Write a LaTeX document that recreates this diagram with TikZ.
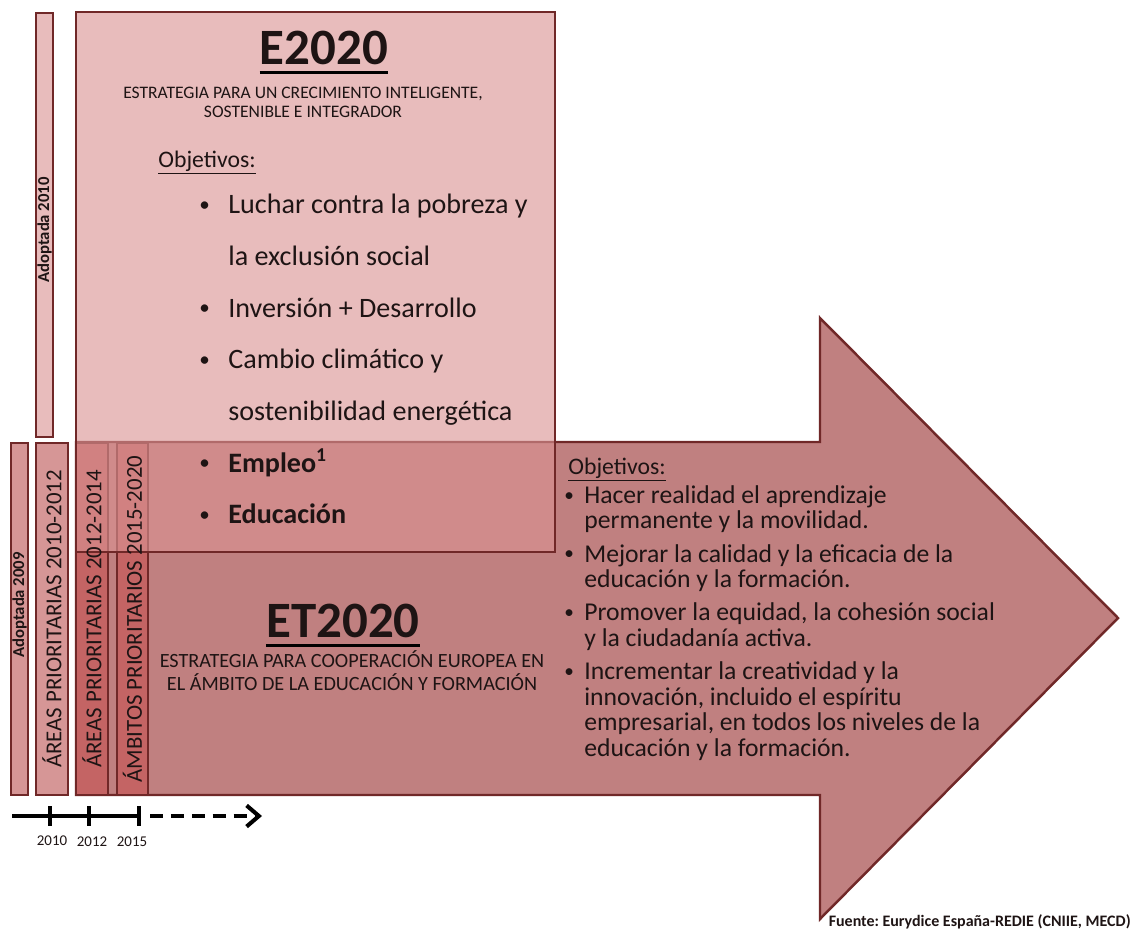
\documentclass[tikz,border=0pt]{standalone}
\usepackage{fontspec}
\setmainfont{Carlito}
\usetikzlibrary{arrows.meta}

\definecolor{edge}{RGB}{112,40,40}
\definecolor{arrowfill}{RGB}{192,128,128}
\definecolor{boxfill}{RGB}{218,147,147}
\definecolor{palebar}{RGB}{232,188,188}
\definecolor{lightbar}{RGB}{214,150,150}
\definecolor{darkbar}{RGB}{196,100,100}
\definecolor{ink}{RGB}{30,20,20}

\frenchspacing
\newcommand{\fsz}[2]{\fontsize{#1}{#2}\selectfont}
\newcommand{\bul}[1]{\makebox[#1][l]{\raisebox{0.08em}{\scalebox{0.75}{\textbullet}}}}

\tikzset{
  bar/.style={draw=edge, line width=1.4pt, rectangle, inner sep=0pt, rotate=90},
  vlab/.style={rotate=90, inner sep=0pt, font=\fsz{13}{14}},
  tit/.style={inner sep=0pt, font=\bfseries\fsz{29}{32}},
  yr/.style={inner sep=0pt, font=\fsz{8.5}{9}}
}

\begin{document}
\begin{tikzpicture}[x=0.02cm, y=-0.02cm, text=ink]
\useasboundingbox (0,0) rectangle (1136,930);

% ET2020 arrow
\draw[edge, line width=1.4pt, fill=arrowfill, line join=miter]
  (76,442) -- (820,442) -- (820,318) -- (1118,618) -- (820,919) -- (820,795) -- (76,795) -- cycle;

% adoption and priority bars
\node[bar, fill=palebar, minimum width=8.48cm, minimum height=0.34cm] (b2010) at (44.5,225) {};
\node[bar, fill=lightbar, minimum width=7.04cm, minimum height=0.34cm] (b2009) at (19.5,619) {};
\node[bar, fill=lightbar, minimum width=7.04cm, minimum height=0.64cm] (a1) at (52,619) {};
\node[bar, fill=darkbar, minimum width=7.04cm, minimum height=0.64cm] (a2) at (92,619) {};
\node[bar, fill=darkbar, minimum width=7.04cm, minimum height=0.62cm] (a3) at (132.5,619) {};

% E2020 box
\node[draw=edge, line width=1.4pt, fill=boxfill, fill opacity=0.62, minimum width=9.58cm, minimum height=10.8cm, inner sep=0pt] (e2020) at (315.5,282) {};

\node[vlab] (l1) at (a1.center) {ÁREAS PRIORITARIAS 2010-2012};
\node[vlab] (l2) at (a2.center) {ÁREAS PRIORITARIAS 2012-2014};
\node[vlab] (l3) at (a3.center) {ÁMBITOS PRIORITARIOS 2015-2020};
\node[vlab, font=\bfseries\fsz{9.5}{10}] (l2010) at (44.5,230) {Adoptada 2010};
\node[vlab, font=\bfseries\fsz{9.5}{10}] (l2009) at (19.5,605) {Adoptada 2009};

\node[tit] (et) at (324,48) {E2020};
\draw[line width=1.7pt] ([yshift=-4pt]et.south west) -- ([yshift=-4pt]et.south east);
\node[align=center, inner sep=0pt, font=\fsz{10}{10.8}] (es) at (303,102) {ESTRATEGIA PARA UN CRECIMIENTO INTELIGENTE,\\ SOSTENIBLE E INTEGRADOR};
\node[anchor=base west, inner sep=0pt, font=\fsz{13.5}{15}] (eo) at (158,167) {\underline{Objetivos:}};
\node[anchor=north west, align=left, inner sep=0pt, font=\fsz{16}{29.4}] (el) at (199,194) {%
\bul{0.58cm}Luchar contra la pobreza y\\
\hspace*{0.58cm}la exclusión social\\
\bul{0.58cm}Inversión + Desarrollo\\
\bul{0.58cm}Cambio climático y\\
\hspace*{0.58cm}sostenibilidad energética\\
\bul{0.58cm}\textbf{Empleo\textsuperscript{1}}\\
\bul{0.58cm}\textbf{Educación}};

% ET2020 texts
\node[tit] (tt) at (343,621) {ET2020};
\draw[line width=1.7pt] ([yshift=-4pt]tt.south west) -- ([yshift=-4pt]tt.south east);
\node[align=center, inner sep=0pt, font=\fsz{11.5}{13}] (ts) at (352,671) {ESTRATEGIA PARA COOPERACIÓN EUROPEA EN\\ EL ÁMBITO DE LA EDUCACIÓN Y FORMACIÓN};
\node[anchor=base west, inner sep=0pt, font=\fsz{13.5}{15}] (to) at (568,474) {\underline{Objetivos:}};
\node[anchor=north west, align=left, inner sep=0pt, font=\fsz{14.6}{14.5}] (tl) at (564,485) {%
\bul{0.4cm}Hacer realidad el aprendizaje\\
\hspace*{0.4cm}permanente y la movilidad.\\[4.5pt]
\bul{0.4cm}Mejorar la calidad y la eficacia de la\\
\hspace*{0.4cm}educación y la formación.\\[4.5pt]
\bul{0.4cm}Promover la equidad, la cohesión social\\
\hspace*{0.4cm}y la ciudadanía activa.\\[4.5pt]
\bul{0.4cm}Incrementar la creatividad y la\\
\hspace*{0.4cm}innovación, incluido el espíritu\\
\hspace*{0.4cm}empresarial, en todos los niveles de la\\
\hspace*{0.4cm}educación y la formación.};

% timeline
\coordinate (t0) at (12,816);
\coordinate (t1) at (140,816);
\coordinate (d0) at (150,816);
\coordinate (d1) at (262,816);
\draw[line width=2.3pt] (t0) -- (t1);
\draw[line width=2.3pt, dash pattern=on 7.4pt off 4.5pt, -{Straight Barb[length=7pt, width=12pt]}] (d0) -- (d1);
\node[yr] (y10) at (52,841) {2010};
\node[yr] (y12) at (92,842) {2012};
\node[yr] (y15) at (132,842) {2015};
\draw[line width=2.3pt] (50,806) -- (50,826);
\draw[line width=2.3pt] (89,806) -- (89,826);
\draw[line width=2.3pt] (139,806) -- (139,826);

\node[anchor=base east, inner sep=0pt, font=\bfseries\fsz{9.1}{10}] (src) at (1131,926) {Fuente: Eurydice España-REDIE (CNIIE, MECD)};
\end{tikzpicture}
\end{document}
